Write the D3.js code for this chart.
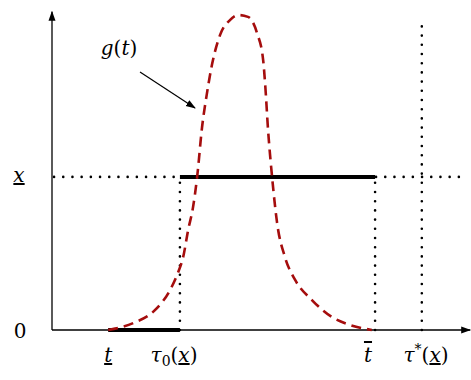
<!DOCTYPE html>
<html>
<head>
<meta charset="utf-8">
<script src="https://cdn.jsdelivr.net/npm/d3@7"></script>
<style>
  body { margin: 0; background: #fff; }
  svg text { font-family: "DejaVu Serif", serif; }
</style>
</head>
<body>
<div id="chart"></div>
<script>
// curve g(t), in chart units (t in 0..10, g in 0..1)
var curveT = [1.37, 1.98, 2.51, 2.88, 3.07, 3.20, 3.32, 3.44, 3.54, 3.66, 3.78, 3.90, 4.10, 4.34, 4.54,
              4.78, 5.00, 5.15, 5.20, 5.27, 5.37, 5.49, 5.68, 5.93, 6.34, 6.83, 7.27, 7.80];
var curveG = [0.000, 0.022, 0.063, 0.127, 0.181, 0.232, 0.317, 0.390, 0.486, 0.644, 0.752, 0.841, 0.937, 0.984, 1.000,
              0.994, 0.943, 0.857, 0.778, 0.635, 0.483, 0.340, 0.232, 0.159, 0.095, 0.041, 0.016, 0.000];

// marked points on the time axis and the level x
var tLow = 1.37, tau0 = 3.12, tBar = 7.88, tauStar = 9.02;
var xLevel = 0.486;

var width = 471, height = 380;

var svg = d3.select("#chart").append("svg")
    .attr("width", width)
    .attr("height", height);

var xScale = d3.scaleLinear().domain([0, 10]).range([52, 462]);
var yScale = d3.scaleLinear().domain([0, 1]).range([330, 15]);

var defs = svg.append("defs");
defs.append("marker")
    .attr("id", "arrow")
    .attr("viewBox", "0 0 10 10")
    .attr("refX", 9).attr("refY", 5)
    .attr("markerWidth", 10).attr("markerHeight", 10)
    .attr("markerUnits", "userSpaceOnUse")
    .attr("orient", "auto")
    .append("path")
    .attr("d", "M0,1.5 L10,5 L0,8.5 Z")
    .attr("fill", "#000");

// axes
svg.append("line")
    .attr("x1", xScale(0)).attr("y1", yScale(0))
    .attr("x2", xScale(10.2)).attr("y2", yScale(0))
    .attr("stroke", "#000").attr("stroke-width", 1.3)
    .attr("marker-end", "url(#arrow)");
svg.append("line")
    .attr("x1", xScale(0)).attr("y1", yScale(0))
    .attr("x2", xScale(0)).attr("y2", yScale(1.01))
    .attr("stroke", "#000").attr("stroke-width", 1.3)
    .attr("marker-end", "url(#arrow)");

// dotted guides
var dotted = function (x1, y1, x2, y2) {
    svg.append("line")
        .attr("x1", xScale(x1)).attr("y1", yScale(y1))
        .attr("x2", xScale(x2)).attr("y2", yScale(y2))
        .attr("stroke", "#000").attr("stroke-width", 2.6)
        .attr("stroke-linecap", "round")
        .attr("stroke-dasharray", "0,9.2");
};
dotted(0.05, xLevel, 9.95, xLevel);
dotted(tau0, 0, tau0, xLevel);
dotted(tBar, 0, tBar, xLevel);
dotted(tauStar, 0, tauStar, 0.975);

// thick segments
svg.append("line")
    .attr("x1", xScale(tLow)).attr("y1", yScale(0))
    .attr("x2", xScale(tau0)).attr("y2", yScale(0))
    .attr("stroke", "#000").attr("stroke-width", 4);
svg.append("line")
    .attr("x1", xScale(tau0)).attr("y1", yScale(xLevel))
    .attr("x2", xScale(tBar)).attr("y2", yScale(xLevel))
    .attr("stroke", "#000").attr("stroke-width", 4);

// g(t)
var pts = curveT.map(function (t, i) { return [t, curveG[i]]; });
var line = d3.line()
    .x(function (d) { return xScale(d[0]); })
    .y(function (d) { return yScale(d[1]); })
    .curve(d3.curveMonotoneX);
svg.append("path")
    .datum(pts)
    .attr("d", line)
    .attr("fill", "none")
    .attr("stroke", "#a50d0d")
    .attr("stroke-width", 2.6)
    .attr("stroke-dasharray", "10,6");

// annotation arrow
svg.append("line")
    .attr("x1", 140).attr("y1", 72)
    .attr("x2", 195).attr("y2", 108)
    .attr("stroke", "#000").attr("stroke-width", 1.2)
    .attr("marker-end", "url(#arrow)");

// labels
var label = function (x, y, parts) {
    var t = svg.append("text")
        .attr("x", x).attr("y", y)
        .attr("text-anchor", "middle")
        .style("font-family", "'DejaVu Serif', serif")
        .style("font-size", "20px")
        .style("fill", "#000");
    parts.forEach(function (p) {
        var s = t.append("tspan").text(p.s);
        if (p.i) s.style("font-style", "italic");
        if (p.u) s.style("text-decoration", "underline");
        if (p.o) s.style("text-decoration", "overline");
        if (p.sub) s.style("font-size", "14px").attr("dy", 4);
        if (p.sup) s.style("font-size", "14px").attr("dy", -8);
        if (p.dy) s.attr("dy", p.dy);
    });
};
label(20, 338, [{ s: "0" }]);
label(19, 182, [{ s: "x", i: true, u: true }]);
label(119, 55, [{ s: "g", i: true }, { s: "(" }, { s: "t", i: true }, { s: ")" }]);
label(xScale(tLow), 362, [{ s: "t", i: true, u: true }]);
label(174, 362, [{ s: "τ", i: true }, { s: "0", sub: true }, { s: "(", dy: -4 }, { s: "x", i: true, u: true }, { s: ")" }]);
label(368, 362, [{ s: "t", i: true, o: true }]);
label(426, 362, [{ s: "τ", i: true }, { s: "*", sup: true }, { s: "(", dy: 8 }, { s: "x", i: true, u: true }, { s: ")" }]);
</script>
</body>
</html>
